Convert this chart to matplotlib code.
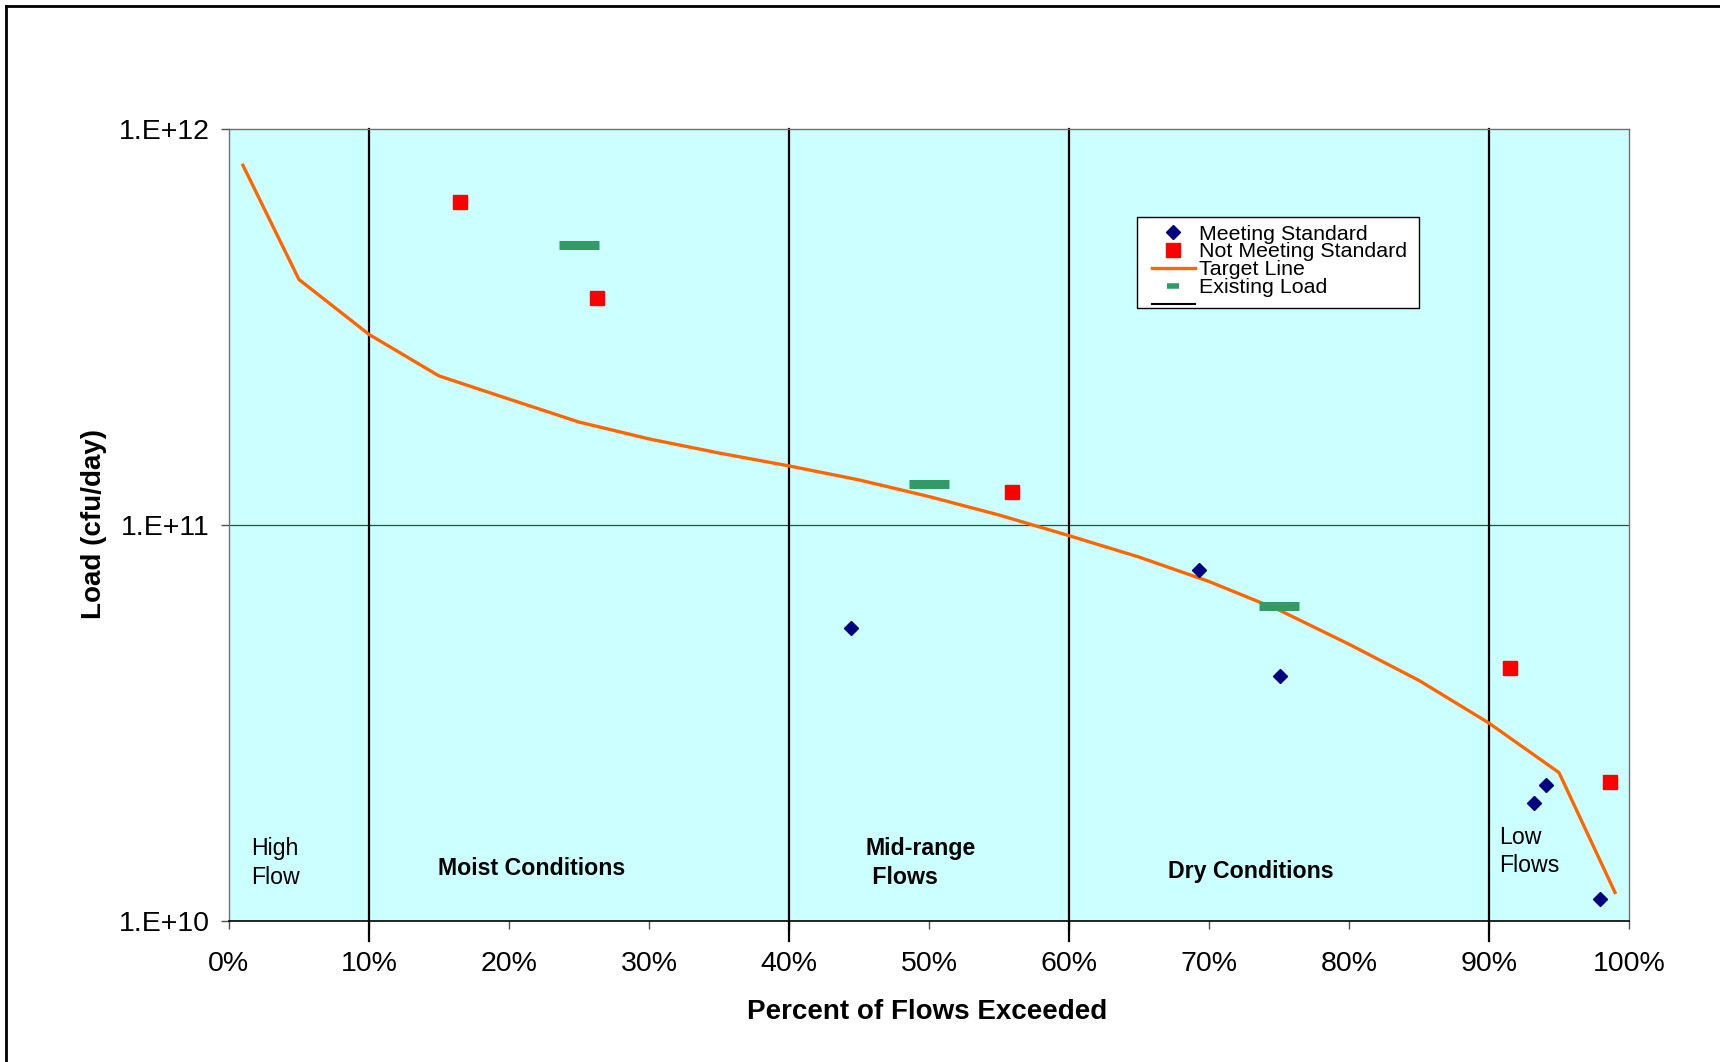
import math
import matplotlib
matplotlib.use("Agg")
import matplotlib.pyplot as plt
from matplotlib.lines import Line2D
from matplotlib.patches import Rectangle
from matplotlib.ticker import FixedLocator, FuncFormatter, NullLocator

plt.rcParams['font.family'] = ['Liberation Sans', 'DejaVu Sans']

# Target line (load duration curve)
target_pct = [1, 5, 10, 15, 20, 25, 30, 35, 40, 45, 50, 55, 60, 65, 70, 75, 80, 85, 90, 95, 99]
target_load = [8.1e11, 4.17e11, 3.03e11, 2.38e11, 2.08e11, 1.82e11, 1.65e11, 1.52e11,
               1.41e11, 1.30e11, 1.18e11, 1.06e11, 9.4e10, 8.3e10, 7.2e10, 6.1e10,
               5.0e10, 4.05e10, 3.16e10, 2.37e10, 1.18e10]

# Samples meeting the standard
meet_pct = [44.4, 69.3, 75.1, 93.2, 94.05, 97.95]
meet_load = [5.5e10, 7.7e10, 4.16e10, 1.98e10, 2.21e10, 1.135e10]

# Samples not meeting the standard
notmeet_pct = [16.5, 26.3, 55.9, 91.5, 98.67]
notmeet_load = [6.56e11, 3.74e11, 1.21e11, 4.36e10, 2.24e10]

# Existing load per flow zone
exist_pct = [25, 50, 75]
exist_load = [5.1e11, 1.27e11, 6.25e10]

# Flow zone boundaries
zone_bounds = [10, 40, 60, 90]

fig = plt.figure(figsize=(17.2, 10.62), dpi=100)
ax = fig.add_axes([0.1331, 0.1328, 0.8140, 0.7457])
ax.set_facecolor('#CCFFFF')

ax.set_yscale('log')
ax.set_xlim(0, 100)
ax.set_ylim(1e10, 1e12)

# zone boundaries, reaching a bit below the axis
for b in zone_bounds:
    ax.axvline(b, ymin=-0.025, ymax=1, color='black', lw=1.6, clip_on=False, zorder=2)

ax.axhline(1e11, color='#404040', lw=0.9, zorder=1)

ax.plot(target_pct, target_load, color='#FF6600', lw=2.4, zorder=3)
ax.plot(meet_pct, meet_load, ls='none', marker='D', ms=7.5, color='#000080', zorder=4)
ax.plot(notmeet_pct, notmeet_load, ls='none', marker='s', ms=9.5, color='#FF0000', zorder=4)
ax.plot(exist_pct, exist_load, ls='none', marker='_', ms=29, mew=6.5, color='#339966', zorder=4)

# ticks
ax.xaxis.set_major_locator(FixedLocator(range(0, 101, 10)))
ax.xaxis.set_major_formatter(FuncFormatter(lambda v, p: '%d%%' % v))
ax.yaxis.set_major_locator(FixedLocator([1e10, 1e11, 1e12]))
ax.yaxis.set_minor_locator(NullLocator())
ax.yaxis.set_major_formatter(FuncFormatter(lambda v, p: '1.E+%d' % round(math.log10(v))))
ax.tick_params(axis='x', labelsize=20.5, length=6, width=1, color='#505050', pad=15.5)
ax.tick_params(axis='y', labelsize=20.5, length=6, width=1, color='#505050', pad=8)

for s in ['left', 'top', 'right']:
    ax.spines[s].set_color('#707070')
    ax.spines[s].set_linewidth(1)
ax.spines['bottom'].set_color('black')
ax.spines['bottom'].set_linewidth(1.2)

ax.set_xlabel('Percent of Flows Exceeded', fontsize=20, fontweight='bold')
ax.xaxis.set_label_coords(0.499, -0.098)
ax.set_ylabel('Load (cfu/day)', fontsize=20, fontweight='bold')
ax.yaxis.set_label_coords(-0.087, 0.501)

# zone labels
ax.text(1.6, 1.40e10, 'High\nFlow', fontsize=16.7, va='center', ha='left', linespacing=1.3)
ax.text(21.6, 1.36e10, 'Moist Conditions', fontsize=16.7, fontweight='bold', va='center', ha='center')
ax.text(45.5, 1.40e10, 'Mid-range\n Flows', fontsize=16.7, fontweight='bold', va='center', ha='left', linespacing=1.3)
ax.text(73.0, 1.335e10, 'Dry Conditions', fontsize=16.7, fontweight='bold', va='center', ha='center')
ax.text(90.75, 1.50e10, 'Low\nFlows', fontsize=16.7, va='center', ha='left', linespacing=1.3)

# legend box (drawn by hand so the padding matches)
frame = Rectangle((1136.5 / 1720, 1 - 308.3 / 1062), 282 / 1720, 91 / 1062,
                  transform=fig.transFigure, facecolor='white', edgecolor='black',
                  lw=1.0, zorder=5)
fig.add_artist(frame)

handles = [
    Line2D([], [], ls='none', marker='D', ms=7.5, color='#000080'),
    Line2D([], [], ls='none', marker='s', ms=9.5, color='#FF0000'),
    Line2D([], [], color='#FF6600', lw=2.4),
    Line2D([], [], ls='none', marker='_', ms=9, mew=4, color='#339966'),
    Line2D([], [], color='black', lw=1.5),
]
labels = ['Meeting Standard', 'Not Meeting Standard', 'Target Line', 'Existing Load', '']
leg = fig.legend(handles, labels, loc='upper left', bbox_to_anchor=(1152 / 1720, 1 - 224.5 / 1062),
                 fontsize=15.4, frameon=False, labelspacing=-0.05, handlelength=2.0,
                 handletextpad=0.2, borderpad=0, borderaxespad=0)
leg.set_zorder(6)

# outer chart border (left and top edges visible)
fig.add_artist(Line2D([0.0035, 0.0035], [0, 0.9944], color='black', lw=2, transform=fig.transFigure))
fig.add_artist(Line2D([0.0035, 1], [0.9944, 0.9944], color='black', lw=2, transform=fig.transFigure))

fig.savefig('out.png', dpi=100)
